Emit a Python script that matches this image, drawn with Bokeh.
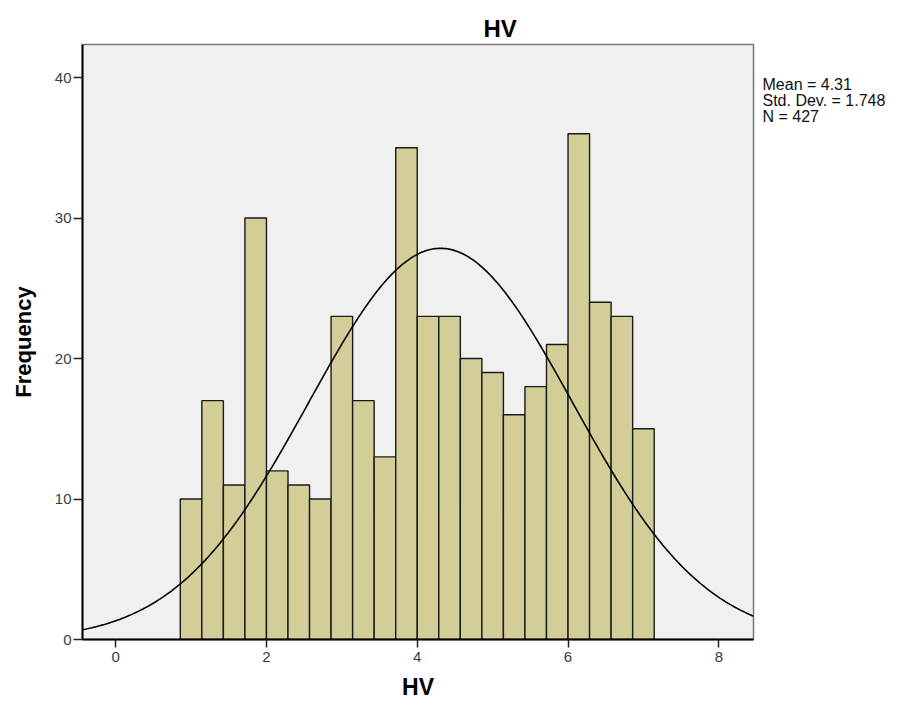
import numpy as np
from bokeh.plotting import figure
from bokeh.layouts import row
from bokeh.models import Range1d, FixedTicker
from bokeh.core.properties import value
from bokeh.embed import file_html
from bokeh.resources import INLINE

# Histogram of HV: 22 bins of width 2/7 starting at 6/7
counts = [10, 17, 11, 30, 12, 11, 10, 23, 17, 13, 35,
          23, 23, 20, 19, 16, 18, 21, 36, 24, 23, 15]
bin_start = 6 / 7
bin_width = 2 / 7

# Summary statistics shown beside the chart
mean_hv = 4.31
sd_hv = 1.748
n_hv = 427

x_ticks = [0, 2, 4, 6, 8]
y_ticks = [0, 10, 20, 30, 40]

FONT = "Liberation Sans"

lefts = bin_start + bin_width * np.arange(len(counts))
rights = lefts + bin_width

p = figure(width=758, height=705,
           x_range=Range1d(-0.44, 8.46), y_range=Range1d(0, 42.35),
           output_backend="svg", toolbar_location=None,
           min_border_left=82, min_border_right=5,
           min_border_top=44, min_border_bottom=66)

# Heading, shifted right of the frame centre
p.title.text = "HV"
p.title.align = "left"
p.title.offset = 401
p.title.text_font = FONT
p.title.text_font_style = "bold"
p.title.text_font_size = "24px"
p.title.text_color = "black"
p.title.standoff = 6

p.background_fill_color = "#f0f0f0"
p.border_fill_color = "white"
p.outline_line_color = "#777777"
p.outline_line_width = 1.5
p.grid.visible = False

p.quad(left=lefts, right=rights, bottom=0, top=counts,
       fill_color="#d3ce97", line_color="#1a1a1a", line_width=1.4)

# Normal curve scaled to the histogram counts
xs = np.linspace(-0.44, 8.46, 400)
scale = n_hv * bin_width / (sd_hv * np.sqrt(2 * np.pi))
ys = scale * np.exp(-0.5 * ((xs - mean_hv) / sd_hv) ** 2)
p.line(xs, ys, line_color="black", line_width=1.6)

for ax in (p.xaxis[0], p.yaxis[0]):
    ax.axis_line_color = "black"
    ax.axis_line_width = 2
    ax.major_tick_line_color = "#222222"
    ax.major_tick_line_width = 1.5
    ax.minor_tick_line_color = None
    ax.major_tick_in = 0
    ax.major_label_text_font = FONT
    ax.major_label_text_font_size = "15px"
    ax.major_label_text_color = "#3a3a3a"
    ax.axis_label_text_font = FONT
    ax.axis_label_text_font_style = "bold"
    ax.axis_label_text_color = "black"

p.xaxis[0].ticker = FixedTicker(ticks=x_ticks)
p.yaxis[0].ticker = FixedTicker(ticks=y_ticks)
p.xaxis[0].major_tick_out = 8
p.yaxis[0].major_tick_out = 9
p.xaxis[0].major_label_standoff = 4
p.yaxis[0].major_label_standoff = 2
p.xaxis[0].axis_label = "HV"
p.yaxis[0].axis_label = "Frequency"
p.xaxis[0].axis_label_text_font_size = "23px"
p.yaxis[0].axis_label_text_font_size = "22px"
p.xaxis[0].axis_label_standoff = 9
p.yaxis[0].axis_label_standoff = 16

# Side panel holding the statistics block; its frame lines up with the
# main frame, so y runs in pixels upward from the frame's bottom edge
side = figure(width=146, height=705, title=None,
              x_range=Range1d(0, 146), y_range=Range1d(0, 595),
              x_axis_type=None, y_axis_type=None,
              output_backend="svg", toolbar_location=None,
              min_border=0)
side.outline_line_color = None
side.grid.visible = False
side.background_fill_color = "white"
side.border_fill_color = "white"

stats = [f"Mean = {mean_hv}", f"Std. Dev. = {sd_hv}", f"N = {n_hv}"]
stats_y = [555, 539, 523]
side.text(x=[4, 4, 4], y=stats_y, text=stats,
          text_font=value(FONT), text_font_size="16px",
          text_color="#111111", text_align="left", text_baseline="middle")

layout = row(p, side, spacing=0)

open("out.html", "w").write(file_html(layout, INLINE))
